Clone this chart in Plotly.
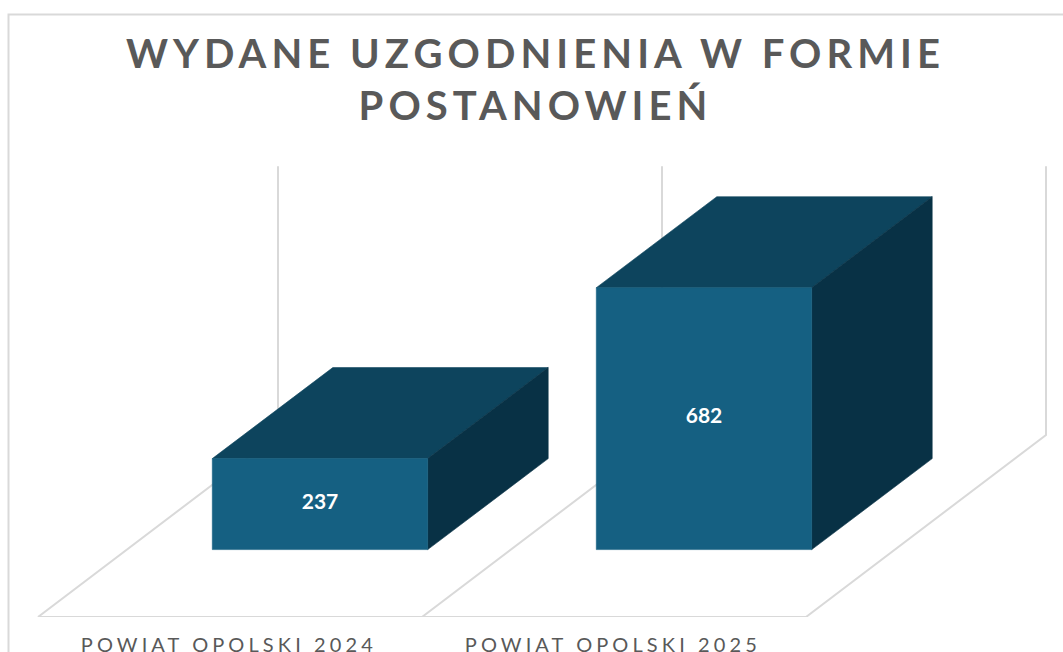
import plotly.graph_objects as go

categories = ["POWIAT OPOLSKI 2024", "POWIAT OPOLSKI 2025"]
values = [237, 682]
title_lines = ["WYDANE UZGODNIENIA W FORMIE", "POSTANOWIEŃ"]

W, H, BOTTOM = 1063, 652, 35
PX_PER_CAT, PX_PER_VAL = 384.0, 0.384
X0_PX, Y0_PX = 320.0, 549.6          # pixel of category 0 centre, and of value 0 on the bar front
FRONT = "#156082"; TOP = "#0D445D"; SIDE = "#083145"; GRID = "#D9D9D9"

half_w = 107.7 / PX_PER_CAT
bar_dx, bar_dy = 120.5 / PX_PER_CAT, 91 / PX_PER_VAL
floor_y = -((H - BOTTOM) - Y0_PX) / PX_PER_VAL
floor_left = (38 - X0_PX) / PX_PER_CAT
floor_dx, floor_dy = 240 / PX_PER_CAT, 182 / PX_PER_VAL
wall_height = 700

fig = go.Figure()

# floor and wall lines
gx, gy = [floor_left, floor_left + len(categories), None], [floor_y, floor_y, None]
for k in range(len(categories) + 1):
    fx = floor_left + k
    gx += [fx, fx + floor_dx, fx + floor_dx, None]
    gy += [floor_y, floor_y + floor_dy, floor_y + floor_dy + wall_height, None]
fig.add_trace(go.Scatter(x=gx, y=gy, mode="lines", line=dict(color=GRID, width=2),
                         hoverinfo="skip", showlegend=False, cliponaxis=False))

# bars: top and side faces first, front face last, from the values
for i, v in enumerate(values):
    l, r = i - half_w, i + half_w
    faces = [
        ([l, r, r + bar_dx, l + bar_dx, l], [v, v, v + bar_dy, v + bar_dy, v], TOP),
        ([r, r + bar_dx, r + bar_dx, r, r], [0, bar_dy, v + bar_dy, v, 0], SIDE),
        ([l, r, r, l, l], [0, 0, v, v, 0], FRONT),
    ]
    for fx, fy, c in faces:
        fig.add_trace(go.Scatter(x=fx, y=fy, mode="lines", fill="toself", fillcolor=c,
                                 line=dict(color=c, width=0.6), hoverinfo="skip", showlegend=False))

# data labels
fig.add_trace(go.Scatter(
    x=list(range(len(values))), y=[v / 2 + 2 for v in values], mode="text",
    text=[str(v) for v in values], textposition="middle center",
    textfont=dict(family="Lato", size=21, color="#FFFFFF", weight="bold"),
    hoverinfo="skip", showlegend=False))

# chart-area border
py = H - BOTTOM
fig.add_shape(type="rect", xref="paper", yref="paper",
              x0=8.5 / W, x1=1.05, y0=(py - 14.5) / py, y1=-0.2,
              line=dict(color=GRID, width=2), layer="below")

fig.update_layout(
    width=W, height=H, margin=dict(l=0, r=0, t=0, b=BOTTOM),
    paper_bgcolor="#FFFFFF", plot_bgcolor="rgba(0,0,0,0)", showlegend=False,
    title=dict(text="<br>".join(title_lines), x=535.5 / W, xanchor="center",
               y=1 - 68 / H, yanchor="top", automargin=False,
               font=dict(family="Lato", size=40, color="#595959", weight="bold")),
    xaxis=dict(range=[-X0_PX / PX_PER_CAT, (W - X0_PX) / PX_PER_CAT],
               tickmode="array", automargin=False,
               tickvals=[i + floor_left + 0.5 - 0.003 for i in range(len(categories))],
               ticktext=categories, ticks="", showgrid=False, zeroline=False, showline=False,
               ticklabelstandoff=14, tickangle=0,
               tickfont=dict(family="Lato", size=20, color="#595959")),
    yaxis=dict(range=[floor_y, Y0_PX / PX_PER_VAL], visible=False, showgrid=False, zeroline=False,
               automargin=False),
)

post = """
document.body.style.margin='0';
var s=document.createElement('style');
s.textContent='.gtitle{letter-spacing:5.05px}.xtick text{letter-spacing:4.1px}';
document.head.appendChild(s);
"""
fig.write_html("out.html", post_script=post, config=dict(displayModeBar=False))
